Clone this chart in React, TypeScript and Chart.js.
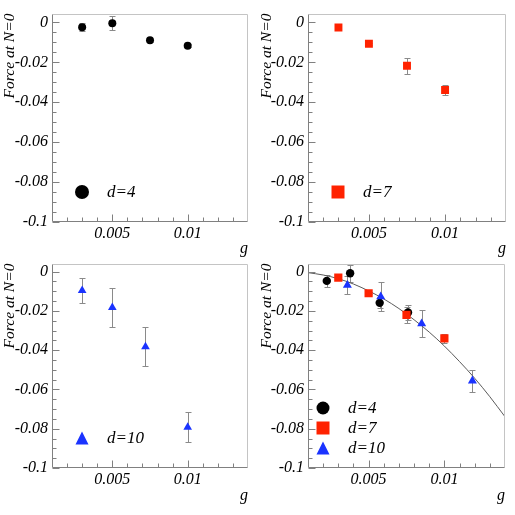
import React, { useEffect, useRef } from 'react';
import { Chart, registerables } from 'chart.js';

Chart.register(...registerables);

// ---- data ----
// panel 1: d=4
const G_D4 = [0.003, 0.005, 0.0075, 0.01];
const F_D4 = [-0.0025, -0.0004, -0.0089, -0.0117];
const E_D4 = [0.002, 0.0036, 0.0008, 0.0007];
// panel 2: d=7
const G_D7 = [0.003, 0.005, 0.0075, 0.01];
const F_D7 = [-0.0026, -0.0107, -0.0217, -0.0339];
const E_D7 = [0.0004, 0.0004, 0.004, 0.0023];
// panel 3: d=10
const G_D10 = [0.003, 0.005, 0.0072, 0.01];
const F_D10 = [-0.0096, -0.0183, -0.0382, -0.0792];
const E_D10 = [0.0065, 0.01, 0.01, 0.0075];
// panel 4: all, rescaled
const GS_D4 = [0.00224, 0.00378, 0.00573, 0.0076];
const FS_D4 = [-0.0047, -0.0008, -0.0159, -0.0208];
const ES_D4 = [0.003, 0.0044, 0.0028, 0.004];
const GS_D7 = [0.003, 0.005, 0.0075, 0.01];
const FS_D7 = [-0.003, -0.011, -0.022, -0.034];
const ES_D7 = [0.0004, 0.0004, 0.004, 0.0023];
const GS_D10 = [0.0036, 0.0058, 0.0085, 0.01185];
const FS_D10 = [-0.0069, -0.0127, -0.0265, -0.0556];
const ES_D10 = [0.0047, 0.0072, 0.007, 0.0055];
// fitted curve
const FIT_G = [0.001, 0.002, 0.003, 0.004, 0.005, 0.006, 0.007, 0.008, 0.009, 0.01, 0.011, 0.012, 0.013, 0.014];
const FIT_F = [-0.0005, -0.0017, -0.0036, -0.0063, -0.0098, -0.0139, -0.0188, -0.0245, -0.0308, -0.0379, -0.0458, -0.0543, -0.0637, -0.0739];

const X_TICKS = [0.005, 0.01];
const X_LABELS = ['0.005', '0.01'];
const Y_TICKS = [-0.1, -0.08, -0.06, -0.04, -0.02, 0];
const Y_LABELS = ['-0.1', '-0.08', '-0.06', '-0.04', '-0.02', '0'];
const SERIES_LABELS = ['d=4', 'd=7', 'd=10'];
const X_TITLE = 'g';
const Y_TITLE = 'Force at N=0';

const FONT = "'Liberation Serif', 'Times New Roman', Times, serif";
const BLACK = '#000000';
const RED = '#ff2200';
const BLUE = '#1a33ff';

type Style = 'circle' | 'rect' | 'triangle';
type Series = { g: number[]; f: number[]; e: number[]; style: Style; color: string; label: string; r: number };
type Panel = {
  left: number; top: number; w: number; h: number;
  padTop: number; padRight: number; yWidth: number; xHeight: number; yMax: number;
  series: Series[]; fit: boolean;
  legend: { dx: number; tx: number; dys: number[]; size: number };
};

const PANELS: Panel[] = [
  {
    left: 0, top: 0, w: 257, h: 258, padTop: 10, padRight: 9, yWidth: 52, xHeight: 36, yMax: 0.0044,
    series: [{ g: G_D4, f: F_D4, e: E_D4, style: 'circle', color: BLACK, label: SERIES_LABELS[0], r: 4 }],
    fit: false, legend: { dx: 30, tx: 55, dys: [-30], size: 14 },
  },
  {
    left: 257, top: 0, w: 258, h: 258, padTop: 10, padRight: 9, yWidth: 51, xHeight: 36, yMax: 0.0044,
    series: [{ g: G_D7, f: F_D7, e: E_D7, style: 'rect', color: RED, label: SERIES_LABELS[1], r: 5.6 }],
    fit: false, legend: { dx: 30, tx: 55, dys: [-30], size: 13 },
  },
  {
    left: 0, top: 250, w: 257, h: 255, padTop: 6, padRight: 9, yWidth: 52, xHeight: 37, yMax: 0.0041,
    series: [{ g: G_D10, f: F_D10, e: E_D10, style: 'triangle', color: BLUE, label: SERIES_LABELS[2], r: 5 }],
    fit: false, legend: { dx: 30, tx: 55, dys: [-30], size: 13 },
  },
  {
    left: 257, top: 250, w: 258, h: 255, padTop: 6, padRight: 10, yWidth: 51, xHeight: 37, yMax: 0.0041,
    series: [
      { g: GS_D10, f: FS_D10, e: ES_D10, style: 'triangle', color: BLUE, label: SERIES_LABELS[2], r: 5.2 },
      { g: GS_D7, f: FS_D7, e: ES_D7, style: 'rect', color: RED, label: SERIES_LABELS[1], r: 5.8 },
      { g: GS_D4, f: FS_D4, e: ES_D4, style: 'circle', color: BLACK, label: SERIES_LABELS[0], r: 4.2 },
    ],
    fit: true, legend: { dx: 15, tx: 40, dys: [-20, -40, -60], size: 13 },
  },
];

function drawMarker(ctx: CanvasRenderingContext2D, style: Style, x: number, y: number, size: number, color: string) {
  ctx.fillStyle = color;
  ctx.beginPath();
  if (style === 'circle') ctx.arc(x, y, size / 2, 0, Math.PI * 2);
  else if (style === 'rect') ctx.rect(x - size / 2, y - size / 2, size, size);
  else {
    ctx.moveTo(x, y - size / 2);
    ctx.lineTo(x + size / 2, y + size / 2);
    ctx.lineTo(x - size / 2, y + size / 2);
    ctx.closePath();
  }
  ctx.fill();
}

function makePlugin(p: Panel) {
  return {
    id: 'rootStyle',
    beforeDatasetsDraw(chart: any) {
      const { ctx, chartArea: a, scales } = chart;
      const xs = scales.x, ys = scales.y;
      ctx.save();
      ctx.beginPath();
      ctx.rect(a.left, a.top, a.right - a.left, a.bottom - a.top);
      ctx.clip();
      ctx.strokeStyle = '#8a8a8a';
      ctx.lineWidth = 1;
      for (const s of p.series) {
        for (let i = 0; i < s.g.length; i++) {
          const px = Math.round(xs.getPixelForValue(s.g[i])) + 0.5;
          const y1 = Math.round(ys.getPixelForValue(s.f[i] + s.e[i])) + 0.5;
          const y2 = Math.round(ys.getPixelForValue(s.f[i] - s.e[i])) + 0.5;
          ctx.beginPath();
          ctx.moveTo(px, y1); ctx.lineTo(px, y2);
          ctx.moveTo(px - 3, y1); ctx.lineTo(px + 3, y1);
          ctx.moveTo(px - 3, y2); ctx.lineTo(px + 3, y2);
          ctx.stroke();
        }
      }
      ctx.restore();
    },
    afterDraw(chart: any) {
      const { ctx, chartArea: a, scales } = chart;
      const xs = scales.x, ys = scales.y;
      const L = Math.round(a.left) + 0.5, R = Math.round(a.right) - 0.5;
      const T = Math.round(a.top) + 0.5, B = Math.round(a.bottom) - 0.5;
      ctx.save();
      ctx.lineWidth = 1;
      // light top/right frame
      ctx.strokeStyle = '#c4c4c4';
      ctx.beginPath();
      ctx.moveTo(L, T); ctx.lineTo(R, T); ctx.lineTo(R, B);
      ctx.stroke();
      // axes with inner ticks
      ctx.strokeStyle = '#808080';
      ctx.beginPath();
      ctx.moveTo(L, T); ctx.lineTo(L, B); ctx.lineTo(R, B);
      for (let k = 0; k <= 20; k++) {
        const v = -0.1 + k * 0.005;
        if (v > ys.max) break;
        const py = Math.round(ys.getPixelForValue(v)) + 0.5;
        const len = k % 4 === 0 ? 7 : 4;
        ctx.moveTo(L, py); ctx.lineTo(L + len, py);
      }
      for (let k = 2; k <= 13; k++) {
        const v = k * 0.001;
        const px = Math.round(xs.getPixelForValue(v)) + 0.5;
        const len = k % 5 === 0 ? 7 : 4;
        ctx.moveTo(px, B); ctx.lineTo(px, B - len);
      }
      ctx.stroke();
      // legend
      ctx.font = `italic 17px ${FONT}`;
      ctx.textBaseline = 'middle';
      ctx.textAlign = 'left';
      p.series.forEach((s, i) => {
        const cy = a.bottom + p.legend.dys[i];
        drawMarker(ctx, s.style, a.left + p.legend.dx, cy, p.legend.size, s.color);
        ctx.fillStyle = '#000';
        ctx.fillText(s.label, a.left + p.legend.tx, cy + 1);
      });
      ctx.restore();
    },
  };
}

function labelFor(ticks: number[], labels: string[], v: number) {
  const i = ticks.findIndex((t) => Math.abs(t - v) < 1e-9);
  return i >= 0 ? labels[i] : '';
}

function PanelChart({ p }: { p: Panel }) {
  const ref = useRef<HTMLCanvasElement | null>(null);
  useEffect(() => {
    if (!ref.current) return;
    const font = (size: number) => ({ family: FONT, size, style: 'italic' as const, lineHeight: 1.2 });
    const datasets: any[] = p.series.map((s) => ({
      label: s.label,
      data: s.g.map((g, i) => ({ x: g, y: s.f[i] })),
      pointStyle: s.style,
      pointRadius: s.r,
      pointBackgroundColor: s.color,
      pointBorderWidth: 0,
      pointBorderColor: s.color,
      showLine: false,
    }));
    if (p.fit) {
      datasets.push({
        label: 'fit',
        data: FIT_G.map((g, i) => ({ x: g, y: FIT_F[i] })),
        showLine: true,
        pointRadius: 0,
        borderColor: '#5a5a5a',
        borderWidth: 1,
        cubicInterpolationMode: 'monotone',
        fill: false,
      });
    }
    const chart = new Chart(ref.current, {
      type: 'scatter',
      data: { datasets },
      options: {
        responsive: false,
        animation: false,
        events: [],
        layout: { padding: { top: p.padTop, right: p.padRight, left: 0, bottom: 0 } },
        plugins: { legend: { display: false }, tooltip: { enabled: false } },
        scales: {
          x: {
            type: 'linear', position: 'bottom', min: 0.001, max: 0.014,
            afterBuildTicks: (s: any) => { s.ticks = X_TICKS.map((v) => ({ value: v })); },
            afterFit: (s: any) => { s.height = p.xHeight; },
            ticks: {
              font: font(16), color: '#000', padding: 2, maxRotation: 0, minRotation: 0, autoSkip: false,
              callback: (v: any) => labelFor(X_TICKS, X_LABELS, Number(v)),
            },
            grid: { display: false, drawTicks: false },
            border: { display: false },
            title: { display: true, text: X_TITLE, align: 'end', color: '#000', font: font(16), padding: { top: 0, bottom: 0 } },
          },
          y: {
            type: 'linear', position: 'left', min: -0.1, max: p.yMax,
            afterBuildTicks: (s: any) => { s.ticks = Y_TICKS.map((v) => ({ value: v })); },
            afterFit: (s: any) => { s.width = p.yWidth; },
            ticks: {
              font: font(16), color: '#000', padding: 4, autoSkip: false,
              callback: (v: any) => labelFor(Y_TICKS, Y_LABELS, Number(v)),
            },
            grid: { display: false, drawTicks: false },
            border: { display: false },
            title: { display: true, text: Y_TITLE, align: 'end', color: '#000', font: font(15.5), padding: { top: 1, bottom: 0 } },
          },
        },
      } as any,
      plugins: [makePlugin(p)],
    });
    return () => chart.destroy();
  }, [p]);
  return (
    <canvas
      ref={ref}
      width={p.w}
      height={p.h}
      style={{ position: 'absolute', left: p.left, top: p.top, width: p.w, height: p.h }}
    />
  );
}

export default function App() {
  return (
    <div style={{ position: 'fixed', left: 0, top: 0, width: 515, height: 515, background: '#fff', overflow: 'hidden' }}>
      {PANELS.map((p, i) => (
        <PanelChart key={i} p={p} />
      ))}
    </div>
  );
}
